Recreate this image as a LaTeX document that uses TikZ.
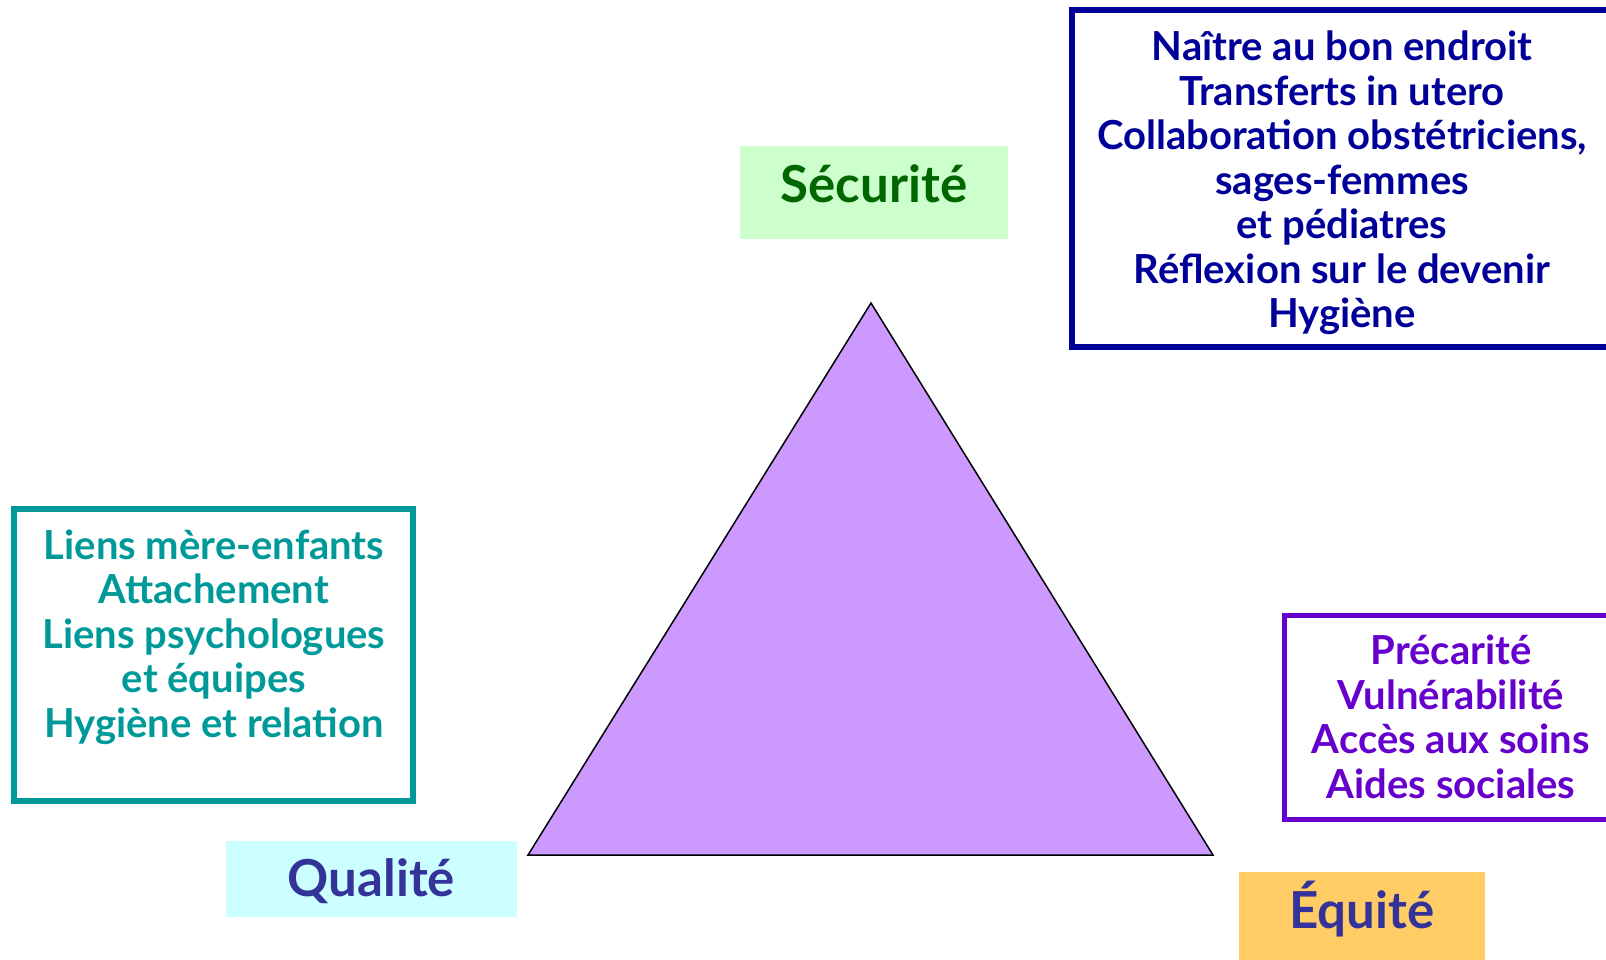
\documentclass[tikz,border=0pt]{standalone}
\usepackage{fontspec}
\setmainfont{Lato}
\usepackage{tikz}

\definecolor{navyblue}{HTML}{000099}
\definecolor{tealgreen}{HTML}{009999}
\definecolor{violet}{HTML}{6600CC}
\definecolor{darkgreen}{HTML}{006600}
\definecolor{indigo}{HTML}{333399}
\definecolor{lightgreen}{HTML}{CCFFCC}
\definecolor{lightcyan}{HTML}{CCFFFF}
\definecolor{lightorange}{HTML}{FFCC66}
\definecolor{lilac}{HTML}{CC99FF}

\begin{document}
\begin{tikzpicture}[x=0.5pt,y=-0.5pt,every node/.style={inner sep=0pt,outer sep=0pt},
	listbox/.style={draw=#1,line width=3pt,anchor=north west},
	listtext/.style={text=#1,align=center,font=\fontsize{20pt}{22.25pt}\selectfont\bfseries},
	titlebox/.style={fill=#1,anchor=north west,align=center,font=\fontsize{25.5pt}{30pt}\selectfont\bfseries}]
	\useasboundingbox (0,0) rectangle (1606,959);
	\clip (0,0) rectangle (1606,959);

	\coordinate (apex) at (871,303);
	\coordinate (baseleft) at (528,855);
	\coordinate (baseright) at (1213,855);
	\draw[fill=lilac,line width=0.75pt,line join=miter] (apex) -- (baseleft) -- (baseright) -- cycle;

	\node[titlebox=lightgreen,text=darkgreen,minimum width=134pt,text height=28pt,text depth=18.5pt] (securite) at (740,146) {Sécurité};
	\node[titlebox=lightcyan,text=indigo,minimum width=145.5pt,text height=27.5pt,text depth=10.5pt] (qualite) at (226,841) {Qualité};
	\node[titlebox=lightorange,text=indigo,minimum width=123pt,text height=28pt,text depth=17pt] (equite) at (1239,872) {Équité};

	\node[listbox=navyblue,minimum width=276pt,minimum height=168.5pt] (secbox) at (1072,10) {};
	\node[listtext=navyblue] (seclist) at (1342,183) {Naître au bon endroit\\Transferts in utero\\Collaboration obstétriciens,\\sages-femmes\\et pédiatres\\Réflexion sur le devenir\\Hygiène};

	\node[listbox=tealgreen,minimum width=199.5pt,minimum height=146pt] (qualbox) at (14,509) {};
	\node[listtext=tealgreen] (quallist) at (214,637) {Liens mère-enfants\\Attachement\\Liens psychologues\\et équipes\\Hygiène et relation};

	\node[listbox=violet,line width=2.5pt,minimum width=170.5pt,minimum height=102pt] (eqbox) at (1284,615) {};
	\node[listtext=violet] (eqlist) at (1451,717) {Précarité\\Vulnérabilité\\Accès aux soins\\Aides sociales};
\end{tikzpicture}
\end{document}
